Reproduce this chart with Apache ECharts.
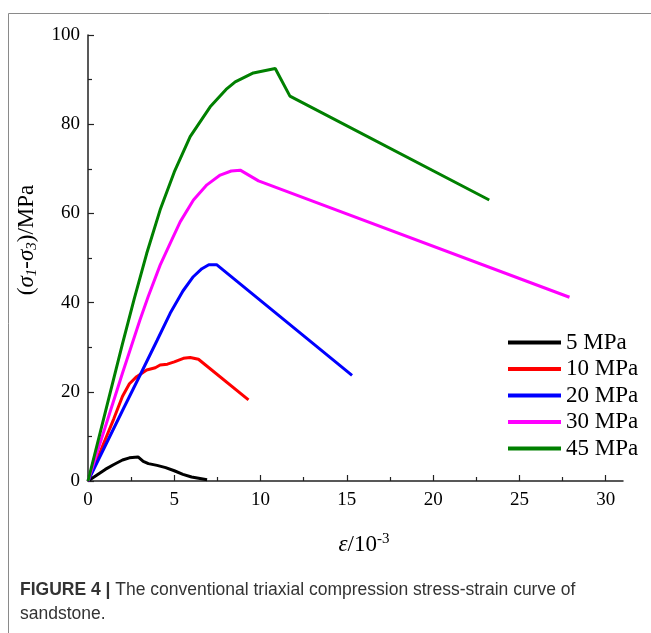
<!DOCTYPE html>
<html>
<head>
<meta charset="utf-8">
<script src="https://cdn.jsdelivr.net/npm/echarts@6/dist/echarts.min.js"></script>
<style>
  html, body { margin: 0; padding: 0; background: #fff; }
  #chart { width: 651px; height: 633px; }
</style>
</head>
<body>
<div id="chart"></div>
<script>
// ---- data (strain in 10^-3, deviatoric stress in MPa) ----
var seriesNames = ['5 MPa', '10 MPa', '20 MPa', '30 MPa', '45 MPa'];
var seriesColors = ['#000000', '#ff0000', '#0000ff', '#ff00ff', '#008000'];

var strain5  = [0, 0.5, 1.0, 1.5, 2.0, 2.4, 2.9, 3.2, 3.5, 4.0, 4.5, 5.0, 5.5, 6.0, 6.9];
var stress5  = [0, 1.3, 2.6, 3.7, 4.7, 5.2, 5.4, 4.4, 3.9, 3.5, 3.0, 2.3, 1.5, 0.9, 0.3];

var strain10 = [0, 0.5, 1.0, 1.5, 2.0, 2.4, 2.82, 3.4, 3.9, 4.18, 4.6, 5.0, 5.53, 5.92, 6.4, 9.3];
var stress10 = [0, 4.5, 9.3, 14.0, 19.0, 21.8, 23.4, 24.9, 25.4, 26.0, 26.2, 26.7, 27.5, 27.7, 27.3, 18.2];

var strain20 = [0, 1.0, 2.0, 3.0, 4.0, 4.76, 5.5, 6.1, 6.6, 7.0, 7.45, 15.3];
var stress20 = [0, 7.9, 15.8, 23.6, 31.5, 37.6, 42.6, 45.8, 47.6, 48.5, 48.5, 23.7];

var strain30 = [0, 1.0, 2.0, 3.0, 3.5, 4.18, 4.76, 5.34, 6.11, 6.89, 7.66, 8.3, 8.82, 9.88, 27.9];
var stress30 = [0, 12.1, 24.2, 36.0, 41.5, 48.4, 53.3, 58.1, 63.0, 66.4, 68.6, 69.5, 69.7, 67.3, 41.2];

var strain45 = [0, 1.0, 2.0, 2.67, 3.4, 4.18, 5.0, 5.92, 7.08, 8.0, 8.53, 9.58, 10.85, 11.7, 23.25];
var stress45 = [0, 15.4, 30.8, 40.7, 51.0, 60.8, 69.3, 77.2, 83.9, 87.8, 89.5, 91.5, 92.5, 86.3, 63.0];

var xMajorTicks = [0, 5, 10, 15, 20, 25, 30];
var xMinorTicks = [2.5, 7.5, 12.5, 17.5, 22.5, 27.5];

var allStrain = [strain5, strain10, strain20, strain30, strain45];
var allStress = [stress5, stress10, stress20, stress30, stress45];

function pairs(xs, ys) {
  var out = [];
  for (var i = 0; i < xs.length; i++) out.push([xs[i], ys[i]]);
  return out;
}

var serif = '"Liberation Serif", "Times New Roman", serif';
var sans = '"Liberation Sans", Arial, sans-serif';
var axisColor = '#222';

var series = seriesNames.map(function (n, i) {
  return {
    name: n,
    type: 'line',
    xAxisIndex: 0,
    yAxisIndex: 0,
    data: pairs(allStrain[i], allStress[i]),
    showSymbol: false,
    symbol: 'none',
    smooth: false,
    lineStyle: { color: seriesColors[i], width: 3 },
    itemStyle: { color: seriesColors[i] },
    z: 3 + i
  };
});

var chart = echarts.init(document.getElementById('chart'), null, { renderer: 'canvas' });
chart.setOption({
  animation: false,
  backgroundColor: '#ffffff',
  grid: { left: 88, right: 28, top: 35, bottom: 152, containLabel: false },
  legend: {
    orient: 'vertical',
    left: 503,
    top: 326,
    icon: 'rect',
    itemWidth: 53,
    itemHeight: 4,
    itemGap: 3.5,
    data: seriesNames,
    textStyle: { fontFamily: serif, fontSize: 23, color: '#000' }
  },
  xAxis: [{
    type: 'value',
    min: 0,
    max: 31,
    interval: 5,
    axisLine: { show: true, onZero: false, lineStyle: { color: axisColor, width: 1.5 } },
    axisTick: { show: true, inside: true, length: 6, customValues: xMajorTicks, lineStyle: { color: axisColor, width: 1.2 } },
    axisLabel: { customValues: xMajorTicks, margin: 10, fontFamily: serif, fontSize: 19, color: '#000' },
    splitLine: { show: false }
  }, {
    type: 'value',
    min: 0,
    max: 31,
    position: 'bottom',
    axisLine: { show: false },
    axisTick: { show: true, inside: true, length: 4, customValues: xMinorTicks, lineStyle: { color: axisColor, width: 1.2 } },
    axisLabel: { show: false },
    splitLine: { show: false }
  }],
  yAxis: {
    type: 'value',
    min: 0,
    max: 100,
    interval: 20,
    axisLine: { show: true, onZero: false, lineStyle: { color: axisColor, width: 1.5 } },
    axisTick: { show: true, inside: true, length: 6, lineStyle: { color: axisColor, width: 1.2 } },
    minorTick: { show: true, splitNumber: 2, length: 4, lineStyle: { color: axisColor, width: 1.2 } },
    axisLabel: { margin: 8, fontFamily: serif, fontSize: 19, color: '#000' },
    splitLine: { show: false }
  },
  series: series,
  graphic: [
    { type: 'line', shape: { x1: 8.5, y1: 13.5, x2: 651, y2: 13.5 }, style: { stroke: '#8a8a8a', lineWidth: 1 }, silent: true },
    { type: 'line', shape: { x1: 8.5, y1: 13.5, x2: 8.5, y2: 633 }, style: { stroke: '#8a8a8a', lineWidth: 1 }, silent: true },
    {
      type: 'text', x: 27, y: 240, rotation: Math.PI / 2, silent: true,
      style: {
        text: '{a|(}{i|σ}{s|1}{a|-}{i|σ}{s|3}{a|)/MPa}',
        align: 'center', verticalAlign: 'middle',
        rich: {
          a: { fontFamily: serif, fontSize: 23, fill: '#000', lineHeight: 26, verticalAlign: 'middle' },
          i: { fontFamily: serif, fontSize: 23, fontStyle: 'italic', fill: '#000', lineHeight: 26, verticalAlign: 'middle' },
          s: { fontFamily: serif, fontSize: 15, fontStyle: 'italic', fill: '#000', lineHeight: 10, verticalAlign: 'bottom' }
        }
      }
    },
    {
      type: 'text', x: 364, y: 545, silent: true,
      style: {
        text: '{i|ε}{a|/10}{sup|-3}',
        align: 'center', verticalAlign: 'middle',
        rich: {
          i: { fontFamily: serif, fontSize: 23, fontStyle: 'italic', fill: '#000', lineHeight: 26, verticalAlign: 'middle' },
          a: { fontFamily: serif, fontSize: 23, fill: '#000', lineHeight: 26, verticalAlign: 'middle' },
          sup: { fontFamily: serif, fontSize: 15, fill: '#000', lineHeight: 12, verticalAlign: 'top' }
        }
      }
    },
    {
      type: 'text', left: 20, top: 581, silent: true,
      style: {
        text: '{b|FIGURE 4 |}{n| The conventional triaxial compression stress-strain curve of}',
        rich: {
          b: { fontFamily: sans, fontSize: 17.5, fontWeight: 'bold', fill: '#333' },
          n: { fontFamily: sans, fontSize: 17.5, fill: '#333' }
        }
      }
    },
    {
      type: 'text', left: 20, top: 605, silent: true,
      style: { text: 'sandstone.', fontFamily: sans, fontSize: 17.5, fill: '#333' }
    }
  ]
});
</script>
</body>
</html>
